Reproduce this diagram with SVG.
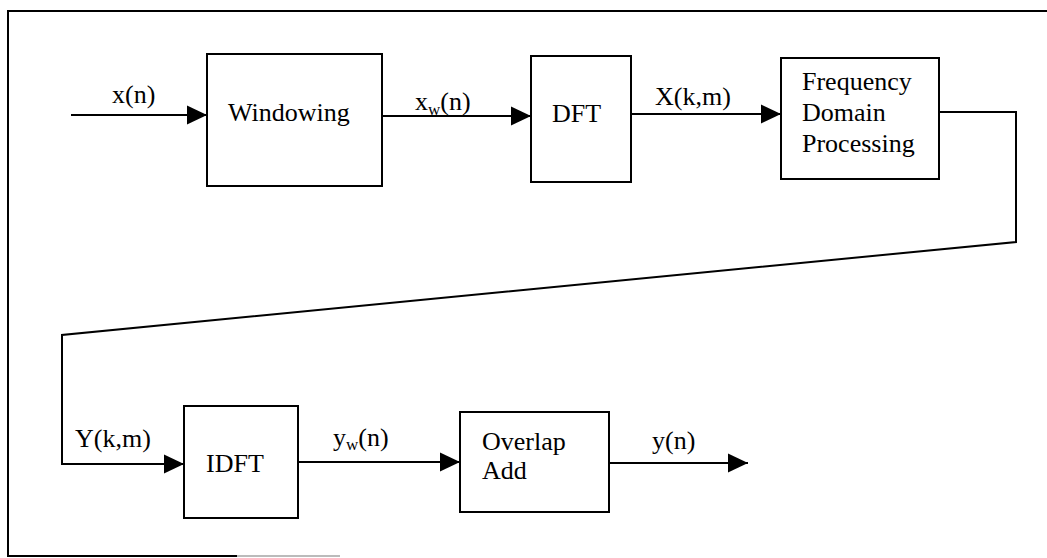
<svg xmlns="http://www.w3.org/2000/svg" width="1047" height="558" viewBox="0 0 1047 558">
  <style>
    .box { fill: #fff; stroke: #000; stroke-width: 2; }
    .wire { fill: none; stroke: #000; stroke-width: 2; }
    .frame { fill: none; stroke: #000; stroke-width: 2; }
    text { font-family: "Liberation Serif", "Times New Roman", serif; font-size: 26px; fill: #000; }
    .sub { font-size: 17px; }
  </style>
  <defs>
    <marker id="head" markerUnits="userSpaceOnUse" markerWidth="20" markerHeight="20" refX="20" refY="10" orient="auto">
      <path d="M0,0.5 L20,10 L0,19.5 Z" fill="#000"/>
    </marker>
  </defs>

  <rect width="1047" height="558" fill="#fff"/>

  <!-- page border (open on the right) -->
  <g id="border">
    <path class="frame" d="M1047,11 L8,11 L8,556 L237,556"/>
    <path d="M237,556 L340,556" stroke="#bbb" stroke-width="2" fill="none"/>
  </g>

  <!-- signal paths -->
  <g id="connectors">
    <path class="wire" d="M71,115 L207,115" marker-end="url(#head)"/>
    <path class="wire" d="M382,116 L531,116" marker-end="url(#head)"/>
    <path class="wire" d="M632,114 L781,114" marker-end="url(#head)"/>
    <path class="wire" d="M939,112 L1016,112 L1016,242 L62,335 L62,464 L184,464" marker-end="url(#head)"/>
    <path class="wire" d="M298,462 L460,462" marker-end="url(#head)"/>
    <path class="wire" d="M609,463 L748,463" marker-end="url(#head)"/>

    <text x="112" y="103">x(n)</text>
    <text x="415" y="110">x<tspan class="sub" dy="5">w</tspan><tspan dy="-5">(n)</tspan></text>
    <text x="655" y="105">X(k,m)</text>
    <text x="75" y="447">Y(k,m)</text>
    <text x="333" y="446">y<tspan class="sub" dy="4">w</tspan><tspan dy="-4">(n)</tspan></text>
    <text x="652" y="449">y(n)</text>
  </g>

  <g id="windowing">
    <rect class="box" x="207" y="54" width="175" height="132"/>
    <text x="228" y="121">Windowing</text>
  </g>

  <g id="dft">
    <rect class="box" x="531" y="56" width="100" height="126"/>
    <text x="552" y="122">DFT</text>
  </g>

  <g id="freq-processing">
    <rect class="box" x="781" y="58" width="158" height="121"/>
    <text x="802" y="90">Frequency</text>
    <text x="802" y="121">Domain</text>
    <text x="802" y="152">Processing</text>
  </g>

  <g id="idft">
    <rect class="box" x="184" y="406" width="114" height="112"/>
    <text x="206" y="472">IDFT</text>
  </g>

  <g id="overlap-add">
    <rect class="box" x="460" y="412" width="149" height="100"/>
    <text x="482" y="450">Overlap</text>
    <text x="482" y="479">Add</text>
  </g>
</svg>
